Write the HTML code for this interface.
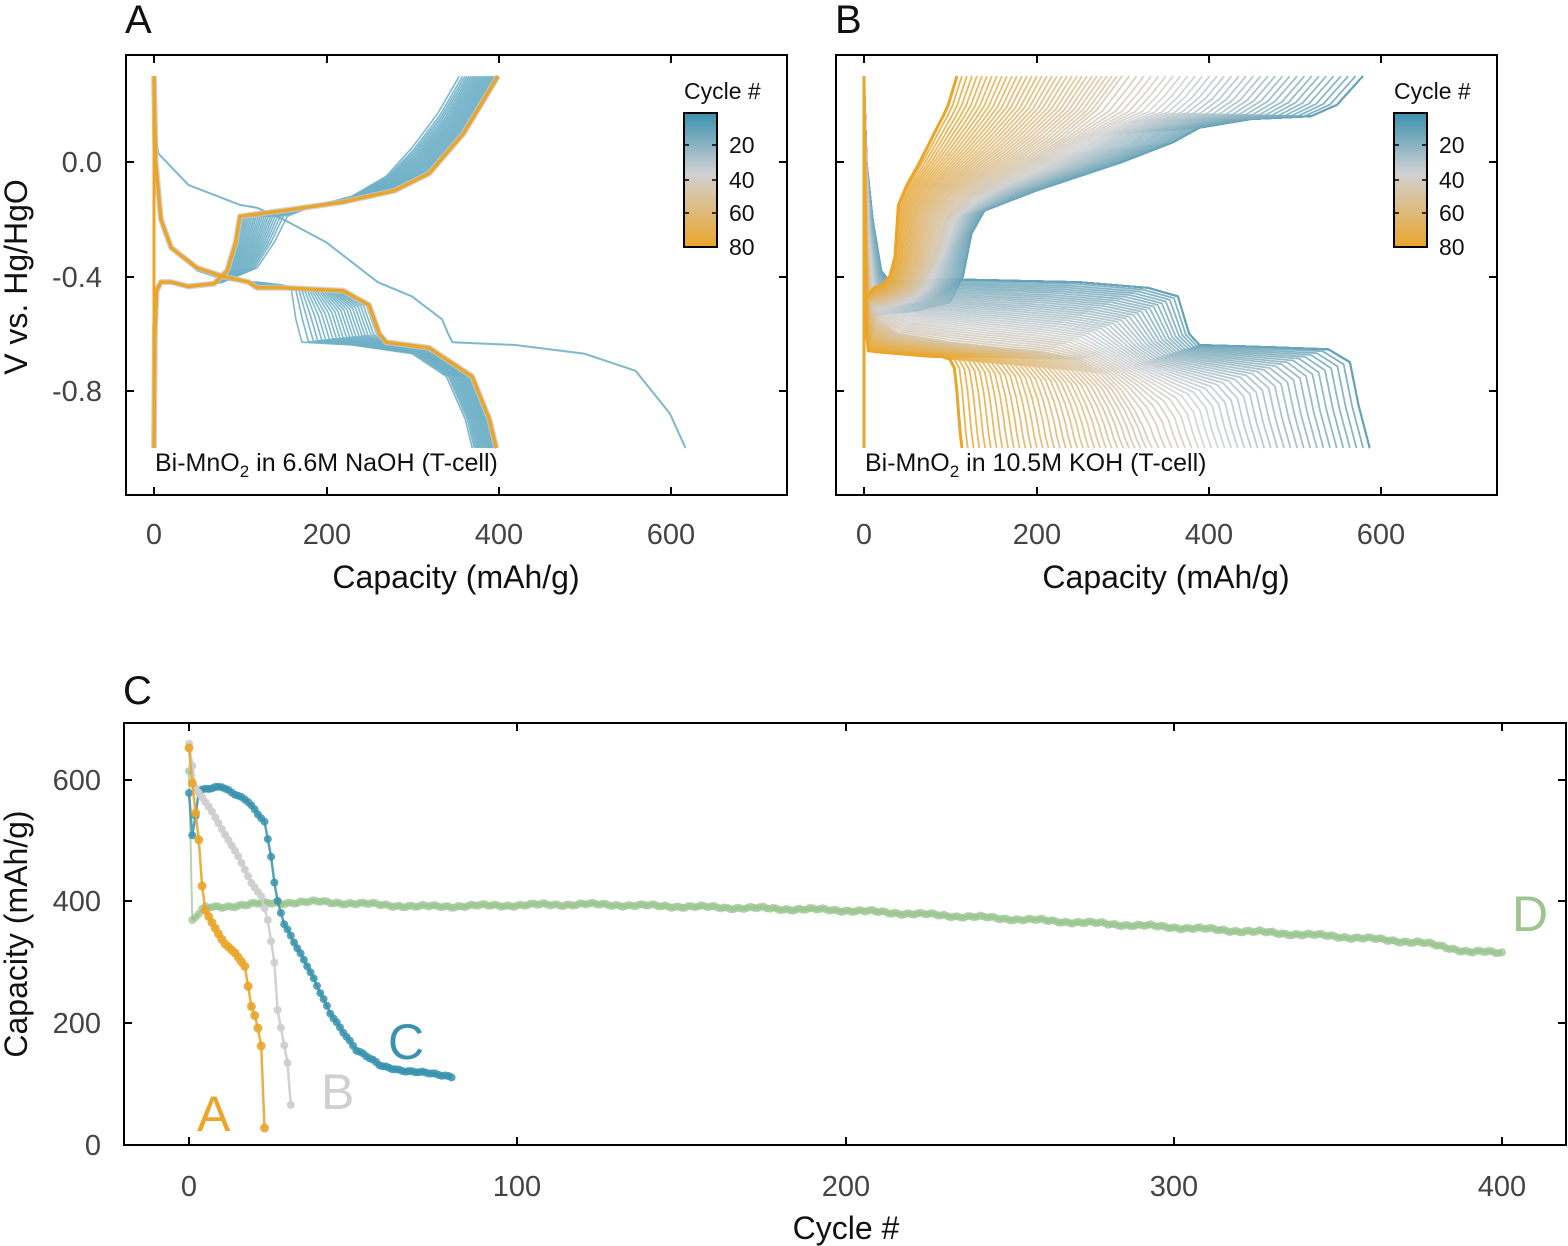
<!DOCTYPE html>
<html><head><meta charset="utf-8"><style>
html,body{margin:0;padding:0;background:#fff;}
svg{display:block;font-family:"Liberation Sans",Arial,sans-serif;}
</style></head><body>
<svg id="s" width="1568" height="1246" viewBox="0 0 1568 1246" xmlns="http://www.w3.org/2000/svg">
<defs>
<linearGradient id="cb" x1="0" y1="0" x2="0" y2="1">
<stop offset="0" stop-color="#3a90ad"/><stop offset="0.45" stop-color="#d0d1d3"/><stop offset="1" stop-color="#eaa52a"/>
</linearGradient>
<clipPath id="ca"><rect x="127" y="56" width="659" height="438"/></clipPath>
<clipPath id="cbp"><rect x="837" y="56" width="659" height="438"/></clipPath>
</defs>
<g id="ga" clip-path="url(#ca)"></g>
<g id="gb" clip-path="url(#cbp)"></g>
<g id="gc"></g>
<g id="axes" stroke="#000" stroke-width="2" fill="none">
<rect x="126" y="55" width="661" height="440"/>
<rect x="836" y="55" width="661" height="440"/>
<rect x="124" y="723" width="1442" height="422"/>
</g>
<g id="ticks" stroke="#000" stroke-width="2"></g>
<g font-size="29" fill="#444" text-anchor="middle">
<text x="154" y="544">0</text><text x="327" y="544">200</text><text x="499" y="544">400</text><text x="671" y="544">600</text>
<text x="864" y="544">0</text><text x="1037" y="544">200</text><text x="1209" y="544">400</text><text x="1381" y="544">600</text>
<text x="189" y="1196">0</text><text x="517" y="1196">100</text><text x="846" y="1196">200</text><text x="1174" y="1196">300</text><text x="1502" y="1196">400</text>
</g>
<g font-size="29" fill="#444" text-anchor="end">
<text x="102" y="172">0.0</text><text x="102" y="287">-0.4</text><text x="102" y="401">-0.8</text>
<text x="101" y="790">600</text><text x="101" y="911">400</text><text x="101" y="1033">200</text><text x="101" y="1155">0</text>
</g>
<g font-size="32" fill="#111" text-anchor="middle">
<text x="456" y="588">Capacity (mAh/g)</text>
<text x="1166" y="588">Capacity (mAh/g)</text>
<text x="846" y="1239">Cycle #</text>
<text transform="translate(27,277) rotate(-90)">V vs. Hg/HgO</text>
<text transform="translate(27,934) rotate(-90)">Capacity (mAh/g)</text>
</g>
<g font-size="40" fill="#111">
<text x="125" y="33">A</text><text x="835" y="33">B</text><text x="123" y="704">C</text>
</g>
<g font-size="25" fill="#111">
<text x="155" y="471">Bi-MnO<tspan font-size="17" dy="6">2</tspan><tspan dy="-6"> in 6.6M NaOH (T-cell)</tspan></text>
<text x="865" y="471">Bi-MnO<tspan font-size="17" dy="6">2</tspan><tspan dy="-6"> in 10.5M KOH (T-cell)</tspan></text>
</g>
<g id="legs"></g>
<g font-size="50">
<text x="197" y="1131" fill="#eaa52a">A</text>
<text x="321" y="1109" fill="#cfcfcf">B</text>
<text x="388" y="1059" fill="#3a93ae">C</text>
<text x="1512" y="931" fill="#9cc592">D</text>
</g>
</svg>
<script>
var NS="http://www.w3.org/2000/svg";
function el(p,t,a){var e=document.createElementNS(NS,t);for(var k in a)e.setAttribute(k,a[k]);p.appendChild(e);return e;}
function hex(c){return [parseInt(c.substr(1,2),16),parseInt(c.substr(3,2),16),parseInt(c.substr(5,2),16)];}
var T=hex("#3a90ad"),G=hex("#d0d1d3"),O=hex("#eaa52a");
function col(u){var a,b,f;if(u<0.45){a=T;b=G;f=u/0.45;}else{a=G;b=O;f=(u-0.45)/0.55;}
return "rgb("+[0,1,2].map(function(i){return Math.round(a[i]+(b[i]-a[i])*f)}).join(",")+")";}
function lerp(A,B,f){return A.map(function(p,i){return [p[0]+(B[i][0]-p[0])*f,p[1]+(B[i][1]-p[1])*f];});}
function path(g,pts,mx,my,c,w,op){var d=pts.map(function(p,i){return (i?"L":"M")+mx(p[0]).toFixed(1)+","+my(p[1]).toFixed(1)}).join("");
el(g,"path",{d:d,stroke:c,"stroke-width":w,fill:"none","stroke-opacity":op,"stroke-linejoin":"round"});}
var tk=document.getElementById("ticks");
function tick(x1,y1,x2,y2){el(tk,"line",{x1:x1,y1:y1,x2:x2,y2:y2});}
[[126,787,[154,327,499,671]],[836,1497,[864,1037,1209,1381]]].forEach(function(P){
 P[2].forEach(function(x){tick(x,495,x,487);tick(x,55,x,63);});
 [162,277,391].forEach(function(y){tick(P[0],y,P[0]+8,y);tick(P[1],y,P[1]-8,y);});});
[189,517,846,1174,1502].forEach(function(x){tick(x,1145,x,1137);tick(x,723,x,731);});
[780,901,1023,1145].forEach(function(y){tick(124,y,132,y);tick(1566,y,1558,y);});
var lg=document.getElementById("legs");
[0,710].forEach(function(o){
 el(lg,"rect",{x:684+o,y:113,width:33,height:134,fill:"url(#cb)",stroke:"#000","stroke-width":2});
 var t=el(lg,"text",{x:684+o,y:99,"font-size":23,fill:"#111"});t.textContent="Cycle #";
 [[145,"20"],[180,"40"],[213,"60"],[247,"80"]].forEach(function(q){
  el(lg,"line",{x1:684+o,y1:q[0],x2:689+o,y2:q[0],stroke:"#000","stroke-width":1.5});
  el(lg,"line",{x1:712+o,y1:q[0],x2:717+o,y2:q[0],stroke:"#000","stroke-width":1.5});
  var tt=el(lg,"text",{x:729+o,y:q[0]+8,"font-size":23,fill:"#111"});tt.textContent=q[1];});
});
var ga=document.getElementById("ga");
var ax=function(x){return 154+x*0.86},ay=function(v){return 162-v*286};
var bx=function(x){return 864+x*0.86};
var Ace=[[0,-1],[1,-0.6],[3,-0.45],[8,-0.42],[20,-0.42],[40,-0.44],[80,-0.42],[120,-0.37],[140,-0.28],[155,-0.19],[180,-0.16],[230,-0.12],[270,-0.05],[300,0.05],[330,0.17],[355,0.3]];
var Acl=[[0,-1],[1,-0.6],[3,-0.45],[8,-0.42],[20,-0.42],[40,-0.435],[70,-0.425],[85,-0.38],[95,-0.28],[100,-0.19],[150,-0.17],[220,-0.14],[280,-0.1],[320,-0.04],[360,0.1],[400,0.3]];
var Ade=[[0,0.3],[2,0],[8,-0.2],[20,-0.3],[50,-0.38],[80,-0.41],[110,-0.42],[120,-0.42],[150,-0.43],[160,-0.45],[165,-0.55],[172,-0.63],[230,-0.64],[300,-0.67],[340,-0.75],[362,-0.9],[370,-1]];
var Adl=[[0,0.3],[2,0],[8,-0.2],[20,-0.3],[50,-0.37],[80,-0.4],[110,-0.42],[120,-0.44],[150,-0.44],[220,-0.45],[250,-0.5],[262,-0.6],[270,-0.63],[320,-0.65],[370,-0.75],[390,-0.9],[398,-1]];
path(ga,[[0,0.3],[2,0.1],[5,0.03],[40,-0.08],[100,-0.15],[120,-0.16],[150,-0.2],[200,-0.28],[230,-0.35],[260,-0.42],[300,-0.47],[335,-0.55],[342,-0.6],[347,-0.63],[420,-0.64],[500,-0.67],[560,-0.73],[600,-0.88],[618,-1]],ax,ay,"#6fb0c6",2,0.9);
for(var c=2;c<=80;c++){var u=Math.min(1,(c-2)/22),s=Math.pow(u,0.8);var cc=col((c-1)/79);
 path(ga,lerp(Ace,Acl,s),ax,ay,c<25?"#6fb0c6":cc,1.6,0.9);path(ga,lerp(Ade,Adl,s),ax,ay,c<25?"#6fb0c6":cc,1.6,0.9);}
path(ga,Acl,ax,ay,"#c8c8c8",6,0.8);path(ga,Adl,ax,ay,"#c8c8c8",6,0.8);
path(ga,Acl,ax,ay,"#eaa52a",3.5,1);path(ga,Adl,ax,ay,"#eaa52a",3.5,1);
path(ga,[[0,0.3],[0,-1]],ax,ay,"#eaa52a",3,1);
var gb=document.getElementById("gb");
var Bce=[[3,-0.55],[20,-0.53],[60,-0.52],[100,-0.49],[115,-0.4],[125,-0.25],[140,-0.17],[200,-0.1],[300,0],[360,0.07],[390,0.12],[450,0.15],[520,0.16],[550,0.2],[580,0.3]];
var Bcm=[[3,-0.5],[10,-0.5],[20,-0.5],[40,-0.48],[60,-0.45],[80,-0.35],[95,-0.2],[120,-0.12],[160,-0.05],[200,0.02],[230,0.08],[250,0.13],[270,0.18],[285,0.24],[300,0.3]];
var Bcl=[[3,-0.47],[6,-0.46],[12,-0.44],[21,-0.43],[30,-0.4],[36,-0.33],[40,-0.15],[50,-0.08],[63,-0.01],[75,0.06],[85,0.12],[92,0.16],[98,0.2],[103,0.25],[108,0.3]];
var Bde=[[0,0.3],[3,0],[10,-0.2],[20,-0.38],[30,-0.42],[100,-0.41],[250,-0.42],[330,-0.44],[365,-0.47],[378,-0.6],[390,-0.64],[450,-0.645],[540,-0.655],[565,-0.7],[575,-0.85],[588,-1]];
var Bdm=[[0,0.3],[2,0],[4,-0.3],[8,-0.5],[15,-0.55],[40,-0.6],[100,-0.63],[160,-0.65],[210,-0.665],[250,-0.69],[280,-0.74],[300,-0.8],[315,-0.87],[325,-0.93],[330,-0.97],[335,-1]];
var Bdl=[[0,0.3],[1,0],[2,-0.3],[3,-0.6],[5,-0.66],[20,-0.665],[40,-0.67],[60,-0.675],[80,-0.68],[90,-0.68],[100,-0.69],[105,-0.72],[108,-0.8],[110,-0.88],[112,-0.95],[114,-1]];
function tri(E,M,L,s){return s<0.5?lerp(E,M,s*2):lerp(M,L,(s-0.5)*2);}
for(var c=1;c<=80;c++){var u=Math.max(0,Math.min(1,(c-12)/66));var cc=col((c-1)/79);
 path(gb,tri(Bce,Bcm,Bcl,u),bx,ay,cc,1.8,0.85);path(gb,tri(Bde,Bdm,Bdl,u),bx,ay,cc,1.8,0.85);}
path(gb,Bcl,bx,ay,"#eaa52a",3,1);path(gb,Bdl,bx,ay,"#eaa52a",3,1);
path(gb,[[0,0.3],[0,-1]],bx,ay,"#eaa52a",3,1);
var gc=document.getElementById("gc");
var cx=function(x){return 189+x*3.283},cy=function(v){return 1145-v*0.608};
function interp(K,x){for(var i=1;i<K.length;i++){if(x<=K[i][0]){var f=(x-K[i-1][0])/(K[i][0]-K[i-1][0]);return K[i-1][1]+(K[i][1]-K[i-1][1])*f;}}return K[K.length-1][1];}
function series(K,n,color,lw,r,op,noise){var pts=[];for(var i=0;i<=n;i++){pts.push([i,interp(K,i)+(noise?(Math.sin(i*1.7)+Math.sin(i*0.37))*noise:0)]);}
 path(gc,pts,cx,cy,color,lw,op);pts.forEach(function(p){el(gc,"circle",{cx:cx(p[0]).toFixed(1),cy:cy(p[1]).toFixed(1),r:r,fill:color,"fill-opacity":op});});}
series([[0,615],[1,368],[4.6,390],[25,398],[40,400],[70,392],[120,396],[200,386],[250,372],[300,358],[350,343],[375,333],[390,318],[400,316]],400,"#9cc592",2,4,0.75,1.5);
series([[0,579],[1,508],[2,541],[3,582],[10,590],[17.6,567],[23,530],[25,475],[26.5,410],[29,365],[36,294],[43,217],[51,156],[58.5,130],[66,122],[80,113]],80,"#3a93ae",2.5,4,0.85,1);
series([[0,660],[2,587],[6.7,551],[10.7,513],[15,475],[19,431],[22,409],[24,370],[26,300],[27,222],[29,164],[30,135],[31,66]],31,"#cfcfcf",2.5,4,0.95,0);
series([[0,653],[1,595],[2,546],[3,502],[4,426],[5,386],[7.6,360],[10.7,332],[14,316],[17,294],[19,228],[20.6,204],[22,163],[23,28]],23,"#eaa52a",2.5,4.5,0.9,0);
</script>
</body></html>
